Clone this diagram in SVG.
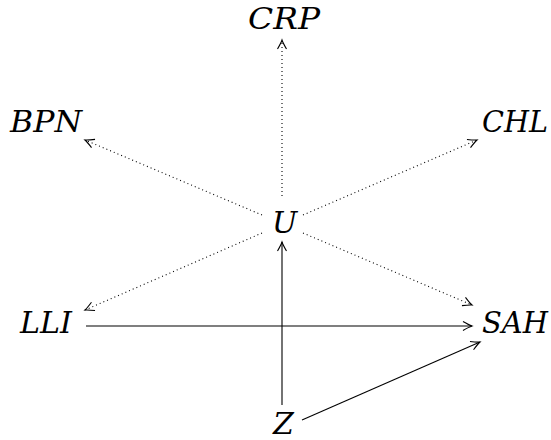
<svg xmlns="http://www.w3.org/2000/svg" width="551" height="440" viewBox="0 0 551 440">
<style>
.lbl{font-family:'DejaVu Serif',serif;font-style:italic;font-size:30px;fill:#000}
.solid{stroke:#000;stroke-width:1.1;fill:none}
.dot{stroke:#000;stroke-width:1.1;fill:none;stroke-dasharray:1 3}
</style>
<defs>
<marker id="ar" markerUnits="userSpaceOnUse" viewBox="-10 -6 12 12" refX="0" refY="0" markerWidth="12" markerHeight="12" orient="auto">
<path d="M-9,-4.5 Q-3,-1 0,0 Q-3,1 -9,4.5" fill="none" stroke="#000" stroke-width="1.1"/>
</marker>
</defs>
<rect width="551" height="440" fill="#fff"/>
<g id="connectors">
<line class="dot" x1="282" y1="196" x2="282" y2="40" marker-end="url(#ar)"/>
<line class="dot" x1="262" y1="215" x2="85" y2="140" marker-end="url(#ar)"/>
<line class="dot" x1="303" y1="215" x2="477" y2="140" marker-end="url(#ar)"/>
<line class="dot" x1="262" y1="233" x2="85" y2="310" marker-end="url(#ar)"/>
<line class="dot" x1="303" y1="233" x2="472" y2="305" marker-end="url(#ar)"/>
<line class="solid" x1="86" y1="326" x2="472" y2="326" marker-end="url(#ar)"/>
<line class="solid" x1="282" y1="405" x2="282" y2="242" marker-end="url(#ar)"/>
<line class="solid" x1="302" y1="420" x2="480" y2="342" marker-end="url(#ar)"/>
</g>
<g id="CRP"><text class="lbl" x="248" y="29" textLength="72" lengthAdjust="spacingAndGlyphs">CRP</text></g>
<g id="BPN"><text class="lbl" x="10" y="132" textLength="72" lengthAdjust="spacingAndGlyphs">BPN</text></g>
<g id="CHL"><text class="lbl" x="482" y="132" textLength="66" lengthAdjust="spacingAndGlyphs">CHL</text></g>
<g id="U"><text class="lbl" x="272" y="233">U</text></g>
<g id="LLI"><text class="lbl" x="20" y="333" textLength="52" lengthAdjust="spacingAndGlyphs">LLI</text></g>
<g id="SAH"><text class="lbl" x="482" y="333" textLength="66" lengthAdjust="spacingAndGlyphs">SAH</text></g>
<g id="Z"><text class="lbl" x="273" y="434">Z</text></g>
</svg>
